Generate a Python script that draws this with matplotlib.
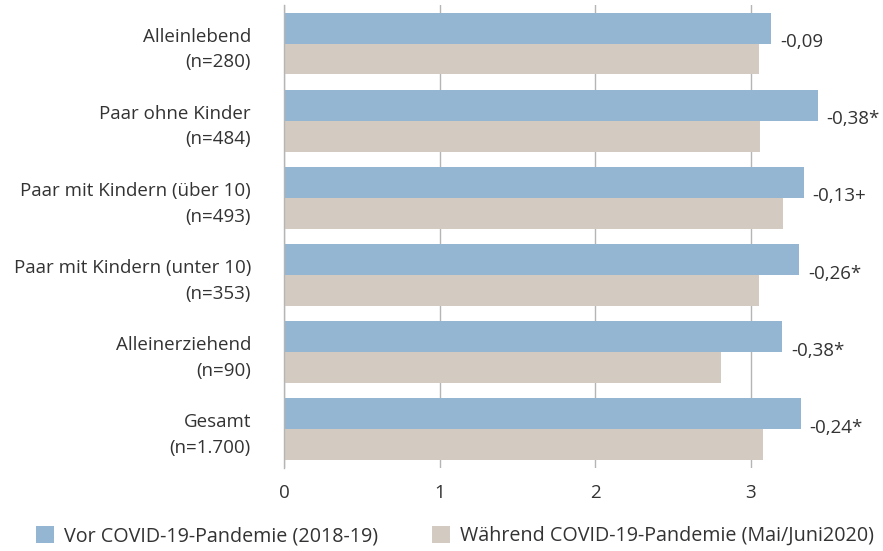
import matplotlib.pyplot as plt
import numpy as np

plt.rcParams['font.family'] = ['Open Sans', 'DejaVu Sans']

categories = ['Alleinlebend\n(n=280)', 'Paar ohne Kinder\n(n=484)',
              'Paar mit Kindern (über 10)\n(n=493)', 'Paar mit Kindern (unter 10)\n(n=353)',
              'Alleinerziehend\n(n=90)', 'Gesamt\n(n=1.700)']
vor = [3.13, 3.43, 3.34, 3.31, 3.20, 3.32]
waehrend = [3.05, 3.06, 3.21, 3.05, 2.81, 3.08]
diff_labels = ['-0,09', '-0,38*', '-0,13+', '-0,26*', '-0,38*', '-0,24*']
series_names = ['Vor COVID-19-Pandemie (2018-19)', 'Während COVID-19-Pandemie (Mai/Juni2020)']

blue = '#94b6d3'
beige = '#d3cbc1'
text_col = '#333333'
grid_col = '#b5b5b5'
fs = 13.5
fs_leg = 14.2

fig = plt.figure(figsize=(8.83, 5.51), dpi=100)
ax = fig.add_axes([0.322, 0.151, 0.678, 0.84])

y = np.arange(len(categories))
h = 0.4
b1 = ax.barh(y - h / 2, vor, height=h, color=blue, label=series_names[0], zorder=2)
b2 = ax.barh(y + h / 2, waehrend, height=h, color=beige, label=series_names[1], zorder=2)

# Differenz rechts neben dem längeren Balken
for i in range(len(categories)):
    xm = max(vor[i], waehrend[i])
    ax.annotate(diff_labels[i], (xm, y[i]), xytext=(6.5, 1), textcoords='offset points',
                ha='left', va='center', fontsize=fs, color=text_col)

ax.set_ylim(len(categories) - 0.5, -0.5)
ax.set_xlim(0, 3.85)
ax.set_xticks([0, 1, 2, 3])
ax.set_yticks(y)
ax.set_yticklabels(categories, fontsize=fs, color=text_col, linespacing=1.55)
ax.tick_params(axis='y', length=0, pad=24)
ax.tick_params(axis='x', length=0, pad=12, labelsize=fs, labelcolor=text_col)
ax.grid(axis='x', color=grid_col, linewidth=1, zorder=0)
for s in ['top', 'right', 'bottom']:
    ax.spines[s].set_visible(False)
ax.spines['left'].set_color(grid_col)
ax.spines['left'].set_linewidth(1)

fig.legend(handles=[b1, b2], loc='center left', bbox_to_anchor=(36 / 883, 0.027), ncol=2,
           frameon=False, fontsize=fs_leg, labelcolor=text_col, handlelength=0.9,
           handleheight=0.9, handletextpad=0.5, columnspacing=2.75,
           borderpad=0, borderaxespad=0)

fig.savefig('out.png', dpi=100)
